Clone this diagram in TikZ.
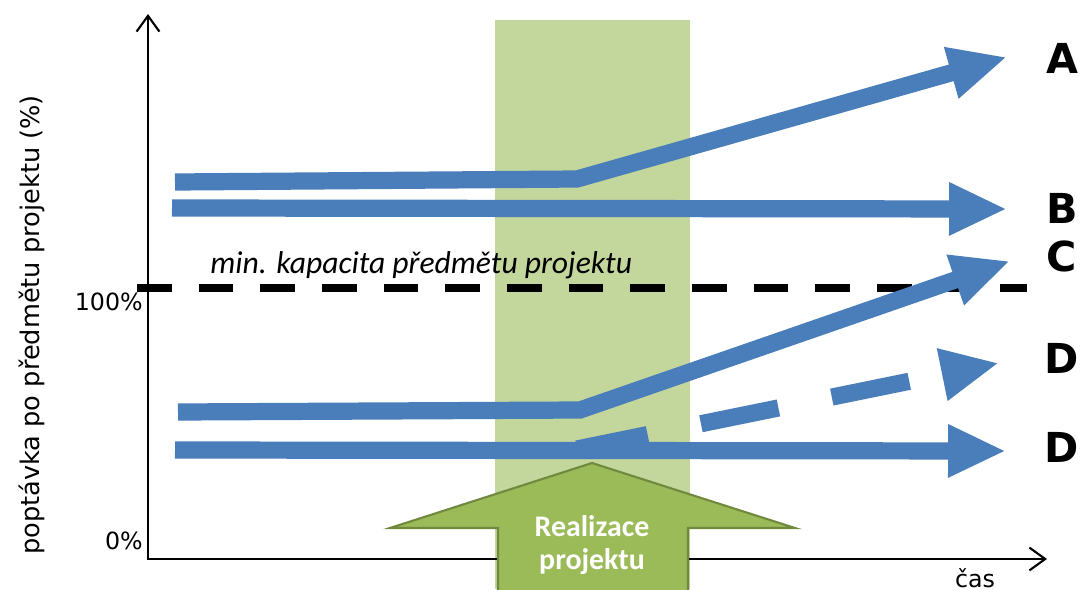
\documentclass[tikz,border=0pt]{standalone}
\usepackage{fontspec}
\setmainfont{DejaVu Sans}
\newfontfamily\calibri{Carlito}
\usetikzlibrary{arrows.meta}

\definecolor{trendblue}{RGB}{74,126,187}
\definecolor{bandgreen}{RGB}{195,214,155}
\definecolor{phasegreen}{RGB}{155,187,89}
\definecolor{phaseborder}{RGB}{113,137,63}

\begin{document}
\begin{tikzpicture}[x=0.02cm, y=-0.02cm,
    axis/.style={draw=black, line width=1.2pt, {Straight Barb[length=9pt, width=13pt]}-{Straight Barb[length=9pt, width=13pt]}},
    trend/.style={draw=trendblue, line width=9.8pt, -{Triangle[length=33pt, width=28pt]}},
    trenddash/.style={trend, dash pattern=on 45pt off 31pt, dash phase=4pt},
    capacity/.style={draw=black, line width=4pt, dash pattern=on 19.8pt off 15.3pt},
    letter/.style={font=\bfseries\fontsize{23.5}{23.5}\selectfont},
    tick/.style={font=\fontsize{13.5}{13.5}\selectfont, anchor=east, inner sep=0pt},
    phase/.style={fill=phasegreen, draw=phaseborder, line width=1.2pt}
]
\useasboundingbox (0,0) rectangle (1083,589);

% Project band
\fill[bandgreen] (495,20) rectangle (690,589);

% Minimum capacity
\coordinate (capL) at (137,288);
\coordinate (capR) at (1027,288);
\draw[capacity] (capL) -- (capR);
\node[font=\calibri\itshape\fontsize{18}{18}\selectfont, anchor=base west, inner sep=0pt] (caplabel) at (210,273) {min. kapacita předmětu projektu};

% Trends
\coordinate (a0) at (175,182);
\coordinate (a1) at (577,179);
\coordinate (a2) at (1007,57);
\draw[trend] (a0) -- (a1) -- (a2);

\coordinate (b0) at (172,208);
\coordinate (b1) at (1007,209);
\draw[trend] (b0) -- (b1);

\coordinate (c0) at (178,412);
\coordinate (c1) at (580,410);
\coordinate (c2) at (1010,261);
\draw[trend] (c0) -- (c1) -- (c2);

\coordinate (d0) at (577,449);
\coordinate (d1) at (999,363);
\draw[trenddash] (d0) -- (d1);

\coordinate (e0) at (175,450);
\coordinate (e1) at (1006,451);
\draw[trend] (e0) -- (e1);

% Axes
\coordinate (ytop) at (148,14);
\coordinate (origin) at (148,559);
\coordinate (xend) at (1047,559);
\draw[axis] (ytop) -- (origin) -- (xend);

% Project arrow
\draw[phase] (592,463) -- (795,528) -- (688,528) -- (688,600) -- (498,600) -- (498,528) -- (390,528) -- cycle;
\node[align=center, text=white, font=\calibri\bfseries\fontsize{17}{19}\selectfont] (phaselabel) at (592,545) {Realizace\\projektu};

% Labels
\node[tick] (p100) at (143,302) {100\%};
\node[tick] (p0) at (143,541) {0\%};
\node[font=\fontsize{14.6}{14.6}\selectfont, rotate=90] (ylabel) at (32,325) {poptávka po předmětu projektu (\%)};
\node[font=\fontsize{13.5}{13.5}\selectfont, anchor=north, inner sep=0pt] (xlabel) at (975,568) {čas};

\node[letter] (labA) at (1062,58) {A};
\node[letter] (labB) at (1062,208) {B};
\node[letter] (labC) at (1062,256) {C};
\node[letter] (labD) at (1062,358) {D};
\node[letter] (labE) at (1062,447) {D};

\end{tikzpicture}
\end{document}
